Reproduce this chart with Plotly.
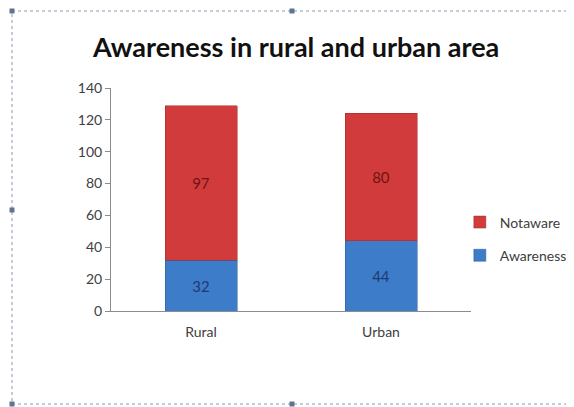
import plotly.graph_objects as go

categories = ["Rural", "Urban"]
awareness = [32, 44]
notaware = [97, 80]
y_ticks = [0, 20, 40, 60, 80, 100, 120, 140]

FONT = "Lato"

fig = go.Figure()
fig.add_trace(go.Bar(
    x=categories, y=awareness, name="Awareness", legendrank=2, legendgroup="aw",
    marker=dict(color="#3D7CC9", line=dict(color="#2A5A95", width=0.5)),
    text=awareness, textposition="inside", insidetextanchor="middle",
    textfont=dict(color="#1F3A73", size=15, family=FONT),
))
fig.add_trace(go.Bar(
    x=categories, y=notaware, name="Notaware", legendrank=1, legendgroup="na",
    marker=dict(color="#D23B3B", line=dict(color="#9E2A2A", width=0.5)),
    text=notaware, textposition="inside", insidetextanchor="middle",
    textfont=dict(color="#6E1414", size=15, family=FONT),
))

# dotted frame with handles (paper coords relative to plot area)
def px2x(px):
    return (px - 111) / 360

def py2y(py):
    return (311 - py) / 223

shapes = [dict(type="rect", xref="paper", yref="paper",
               x0=px2x(12), x1=px2x(570), y0=py2y(404), y1=py2y(11),
               line=dict(color="#8A9BB0", width=1, dash="dot"))]
for px, py in [(12, 11), (292, 11), (570, 11), (12, 210), (570, 210), (12, 404), (292, 404), (570, 404)]:
    shapes.append(dict(type="rect", xref="paper", yref="paper",
                       x0=px2x(px - 2.5), x1=px2x(px + 2.5),
                       y0=py2y(py + 2.5), y1=py2y(py - 2.5),
                       fillcolor="#5E7490", line=dict(width=0)))

fig.update_layout(
    width=566, height=399,
    barmode="stack", bargap=0.6,
    margin=dict(l=103, r=103, t=80, b=96, autoexpand=False),
    paper_bgcolor="white", plot_bgcolor="white",
    font=dict(family=FONT, color="#404040"),
    title=dict(text="<b>Awareness in rural and urban area</b>", x=0.509, xanchor="center",
               y=0.902, yanchor="middle",
               font=dict(size=27, color="#111111", family=FONT)),
    xaxis=dict(showline=True, linecolor="#8C8C8C", ticks="", tickfont=dict(size=14, color="#404040"),
               showgrid=False, automargin=False, ticklabelstandoff=8),
    yaxis=dict(range=[0, 140], tickvals=y_ticks, showline=True, linecolor="#8C8C8C",
               ticks="outside", ticklen=5, tickcolor="#8C8C8C", showgrid=False,
               tickfont=dict(size=14, color="#404040"), zeroline=False, automargin=False),
    legend=dict(x=0.969, y=0.323, xanchor="left", yanchor="middle", traceorder="grouped",
                font=dict(size=14, color="#404040"), itemwidth=30,
                tracegroupgap=12),
    shapes=shapes,
)
fig.write_html("out.html")
